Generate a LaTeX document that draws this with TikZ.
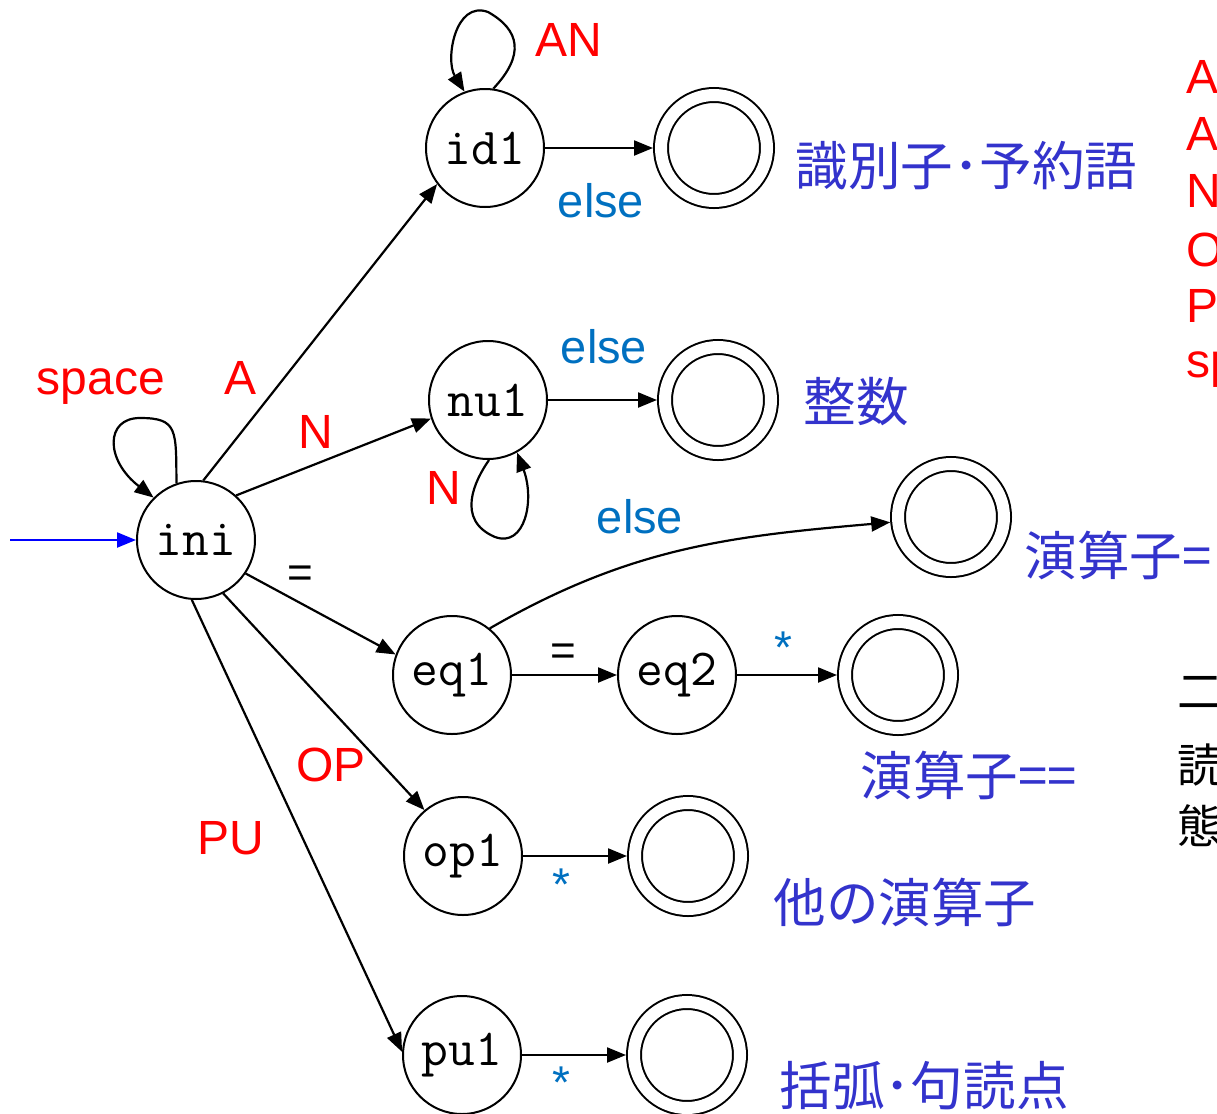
\documentclass[tikz,border=0pt]{standalone}
\usepackage{fontspec}
\setmainfont{Liberation Sans}
\newfontfamily\cjk{Noto Sans CJK JP}
\usetikzlibrary{positioning, arrows, arrows.meta}

\definecolor{elseblue}{HTML}{0070C0}
\definecolor{tokblue}{HTML}{3333CC}

\begin{document}
\begin{tikzpicture}[x=0.5pt, y=-0.5pt,
  state/.style={circle, draw, line width=1pt, minimum size=59pt, inner sep=0pt, font=\ttfamily\fontsize{26}{26}\selectfont},
  accept/.style={circle, draw, line width=1pt, double, double distance=6pt, minimum size=53pt, inner sep=0pt, outer sep=4pt},
  trans/.style={line width=1.1pt, -{Triangle[length=9.5pt, width=7.5pt]}},
  chr/.style={text=red, font=\fontsize{24}{24}\selectfont},
  els/.style={text=elseblue, font=\fontsize{23.5}{24}\selectfont},
  star/.style={text=elseblue, font=\fontsize{23}{23}\selectfont},
  eqs/.style={font=\fontsize{22}{22}\selectfont},
  tokname/.style={text=tokblue, anchor=west, inner sep=0pt, font=\cjk\fontsize{26.3}{27}\selectfont},
  note/.style={anchor=west, inner sep=0pt, font=\cjk\fontsize{23}{24}\selectfont}]
\useasboundingbox (0,0) rectangle (1217,1114);

\node[state] (ini) at (196,540) {ini};
\node[state] (id1) at (485,148) {id1};
\node[accept] (idacc) at (714,148) {};
\node[state] (nu1) at (488,400) {nu1};
\node[accept] (nuacc) at (718,400) {};
\node[state] (eq1) at (452,675) {eq1};
\node[state] (eq2) at (677,675) {eq2};
\node[accept] (eqacc) at (898,675) {};
\node[accept] (asgacc) at (951,517) {};
\node[state] (op1) at (463,856) {op1};
\node[accept] (opacc) at (688,856) {};
\node[state] (pu1) at (462,1055) {pu1};
\node[accept] (puacc) at (687,1055) {};

\coordinate (start) at (10,540);
\draw[trans, blue] (start) -- (ini);

\draw[trans] (ini.109) .. controls (176,430) and (178,418) .. (140,418)
  .. controls (105,418) and (105,460) .. (ini.135);
\draw[trans] (ini.83) -- (id1.217);
\draw[trans] (ini.48) -- (nu1.198);
\draw[trans] (ini.-34) -- (eq1.160);
\draw[trans] (ini.-63) -- (op1.130);
\draw[trans] (ini.-94) -- (pu1.177);

\draw[trans] (id1.82) .. controls (525,55) and (520,30) .. (488,12)
  .. controls (455,0) and (445,60) .. (id1.110);
\draw[trans] (id1) -- (idacc);

\draw[trans] (nu1.-89) .. controls (475,480) and (455,520) .. (495,537)
  .. controls (525,548) and (535,500) .. (nu1.-61);
\draw[trans] (nu1) -- (nuacc);

\draw[trans] (eq1.51) to[out=30, in=185] (asgacc);
\draw[trans] (eq1) -- (eq2);
\draw[trans] (eq2) -- (eqacc);
\draw[trans] (op1) -- (opacc);
\draw[trans] (pu1) -- (puacc);

\node[chr] (lspace) at (101,387) {space};
\node[chr] (lA) at (241,378) {A};
\node[chr] (lN) at (316,432) {N};
\node[eqs] (leq) at (300,577) {=};
\node[chr] (lOP) at (331,765) {OP};
\node[chr] (lPU) at (231,838) {PU};
\node[chr] (lAN) at (569,40) {AN};
\node[els] (lelse1) at (601,201) {else};
\node[els] (lelse2) at (604,347) {else};
\node[chr] (lNN) at (444,488) {N};
\node[els] (lelse3) at (640,517) {else};
\node[eqs] (leqeq) at (563,655) {=};
\node[star] (lstar1) at (783,648) {*};
\node[star] (lstar2) at (561,885) {*};
\node[star] (lstar3) at (561,1083) {*};

\node[tokname] (idtxt) at (795,166) {識別子･予約語};
\node[tokname] (nutxt) at (803,402) {整数};
\node[tokname] (asgtxt) at (1024,555) {演算子=};
\node[tokname] (eqtxt) at (860,775) {演算子==};
\node[tokname] (optxt) at (773,902) {他の演算子};
\node[tokname] (putxt) at (779,1086) {括弧･句読点};

\node[chr, anchor=west, inner sep=0pt] (keyA) at (1186,77) {A};
\node[chr, anchor=west, inner sep=0pt] (keyAN) at (1186,134) {AN};
\node[chr, anchor=west, inner sep=0pt] (keyN) at (1186,191) {N};
\node[chr, anchor=west, inner sep=0pt] (keyOP) at (1186,250) {OP};
\node[chr, anchor=west, inner sep=0pt] (keyPU) at (1186,306) {PU};
\node[chr, anchor=west, inner sep=0pt] (keysp) at (1186,370) {space};
\node[note] (note1) at (1177,692) {二};
\node[note] (note2) at (1177,765) {読};
\node[note] (note3) at (1177,826) {態};
\end{tikzpicture}
\end{document}
